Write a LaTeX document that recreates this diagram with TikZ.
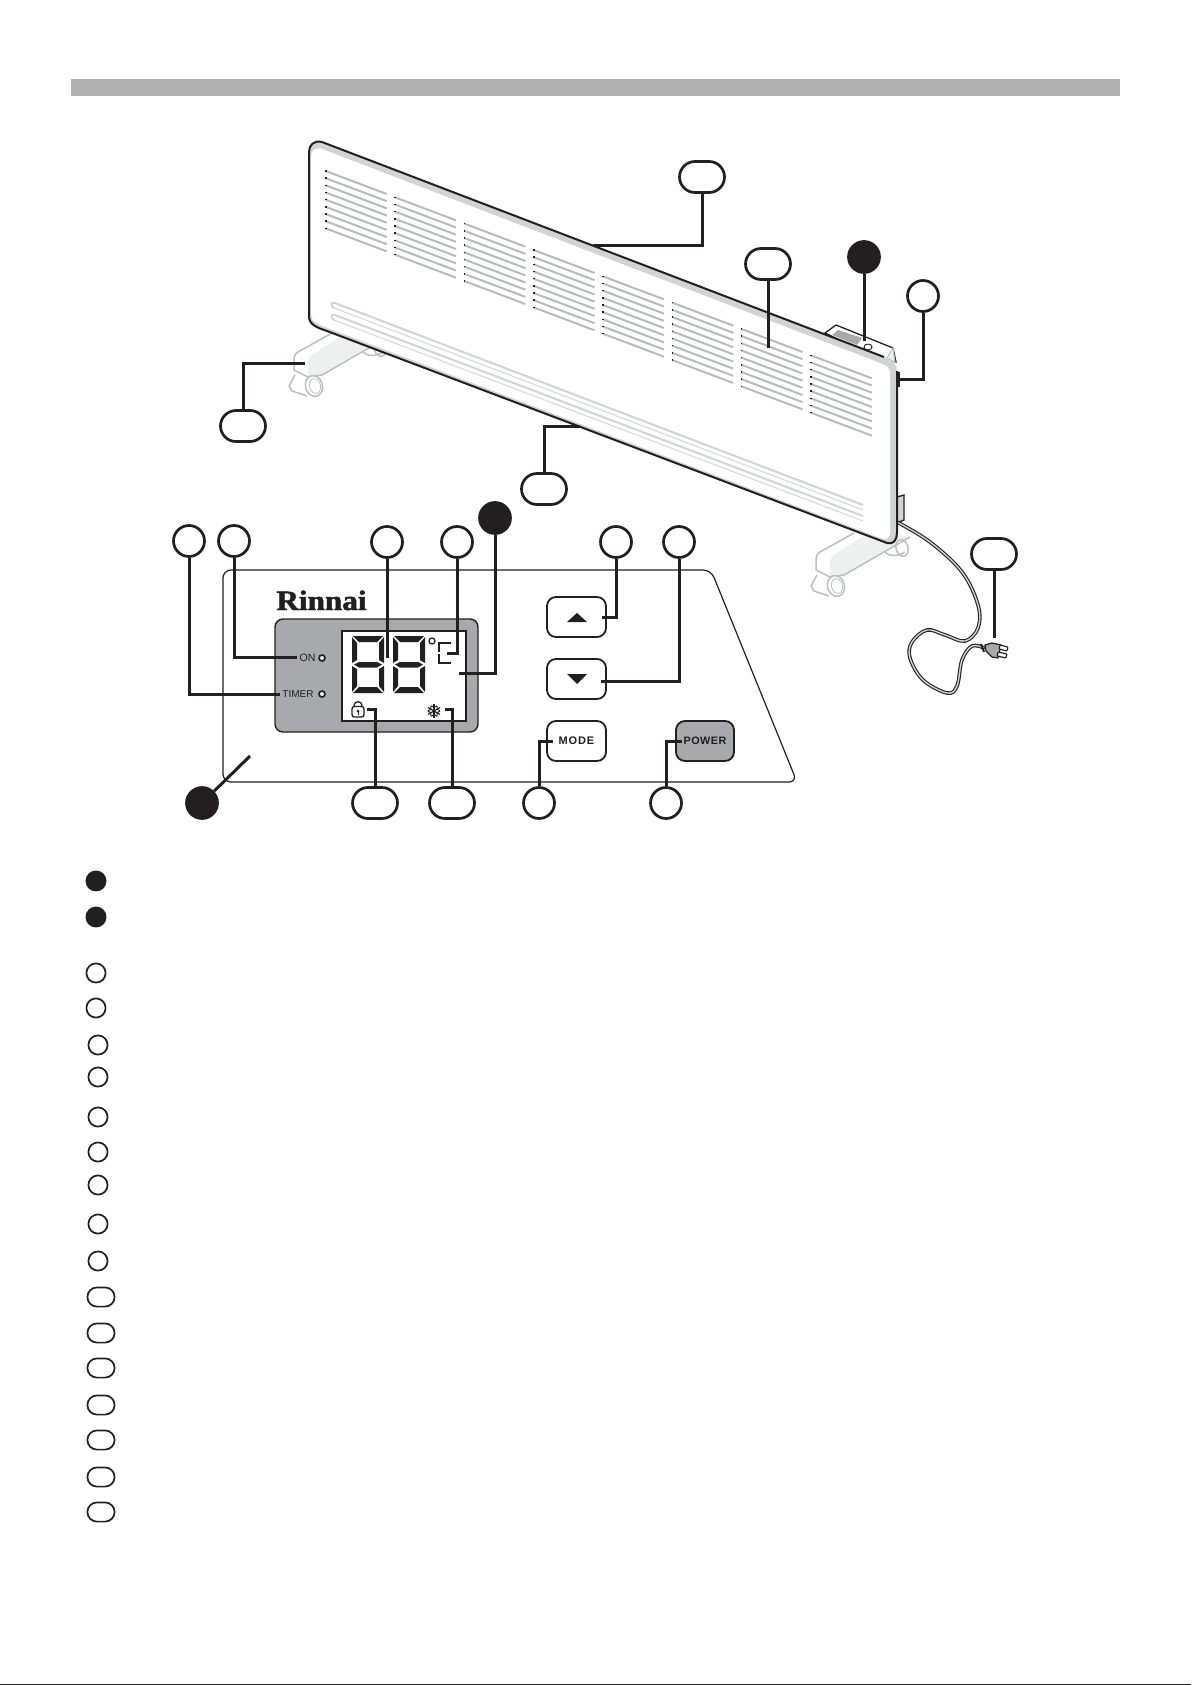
\documentclass[tikz,border=0pt]{standalone}
\usepackage{fontspec}
\setmainfont{Liberation Sans}
\newfontfamily\logofont[BoldFeatures={FakeBold=1.6}]{Liberation Serif}
\usetikzlibrary{shapes.misc}
\definecolor{ink}{HTML}{231F20}
\definecolor{barg}{HTML}{B1B1B1}
\definecolor{panelg}{HTML}{A7A9AC}
\definecolor{stripg}{HTML}{D1D3D4}
\definecolor{slotg}{HTML}{B8BABC}
\definecolor{footg}{HTML}{BCBEC0}
\definecolor{footf}{HTML}{EEEFEF}
\tikzset{
  callout/.style={circle,draw=ink,line width=1.35pt,minimum size=15.5pt,inner sep=0pt,fill=white},
  callfill/.style={circle,draw=ink,fill=ink,line width=1.35pt,minimum size=15.5pt,inner sep=0pt},
  callpill/.style={rounded rectangle,draw=ink,line width=1.35pt,minimum width=22.5pt,minimum height=15.5pt,inner sep=0pt,fill=white},
  legcirc/.style={circle,draw=ink,line width=.85pt,minimum size=9.6pt,inner sep=0pt},
  legfill/.style={circle,draw=ink,fill=ink,line width=.85pt,minimum size=9.6pt,inner sep=0pt},
  legpill/.style={rounded rectangle,draw=ink,line width=.85pt,minimum width=13.6pt,minimum height=9.6pt,inner sep=0pt},
  lead/.style={draw=ink,line width=1.5pt},
  btn/.style={draw=ink,line width=.9pt,rounded corners=4.5pt,fill=white},
  footline/.style={draw=footg,line width=.75pt,line join=round},
  lbl/.style={inner sep=0pt,text=ink}
}
\newcommand\heaterfoot[2]{%
 \begin{scope}[shift={(#1,#2)}]
  \fill[footf] (340,337) -- (312,355) .. controls (309,358) and (308,360) .. (308,364) -- (308,377) -- (322,375) -- (388,337) -- (345,330) -- cycle;
  \draw[footline,fill=white,rotate around={15:(380,348)}] (380,348) ellipse [x radius=6,y radius=8.5];
  \draw[footline] (332,333) -- (298,352) .. controls (295,354) and (294,356) .. (294,359) -- (294,370) -- (308,377) -- (322,375) -- (388,337);
  \draw[footline] (363,352) .. controls (366,356) and (376,357) .. (383,352);
  \draw[footline] (295,375) -- (289,386) -- (292,391) -- (307,396);
  \draw[footline,fill=white,rotate around={15:(314,386)}] (314,386) ellipse [x radius=8.5,y radius=10.5];
  \draw[footline,line width=.4pt,rotate around={15:(315,386)}] (315,386) ellipse [x radius=5.5,y radius=7.5];
 \end{scope}}
\newcommand\lcddigit[1]{%
 \begin{scope}[shift={(#1,636)}]
  \fill[ink] (1,0) -- (31,0) -- (25,6) -- (7,6) -- cycle;
  \fill[ink] (0,1) -- (5,7) -- (5,24) -- (0,27) -- cycle;
  \fill[ink] (32,1) -- (27,7) -- (27,24) -- (32,27) -- cycle;
  \fill[ink] (2,28.5) -- (7,26) -- (25,26) -- (30,28.5) -- (25,31.5) -- (7,31.5) -- cycle;
  \fill[ink] (0,30) -- (5,33) -- (5,50) -- (0,56) -- cycle;
  \fill[ink] (32,30) -- (27,33) -- (27,50) -- (32,56) -- cycle;
  \fill[ink] (1,57) -- (31,57) -- (25,51) -- (7,51) -- cycle;
 \end{scope}}
\begin{document}
\begin{tikzpicture}[x=0.5pt,y=-0.5pt]
\useasboundingbox (0,0) rectangle (1191,1685);
\fill[white] (0,0) rectangle (1191,1685);
\fill[ink] (0,1683.5) rectangle (1191,1685);
\fill[barg] (71,79) rectangle (1120,96);
% feet
\heaterfoot{0}{0}
\heaterfoot{522}{200}
% control box
\draw[ink,line width=.65pt,fill=white] (825,333) -- (836,325) -- (893,348) -- (896,362) -- (880,360) -- cycle;
\fill[panelg] (832,335) -- (838,330) -- (862,338) -- (857,345) -- cycle;
\draw[ink,line width=.45pt] (868,347) ellipse [x radius=4,y radius=3];
\draw[footg,line width=.5pt,fill=footf] (893,348) -- (895,362) -- (887,358) -- cycle;
\fill[ink] (897,372) rectangle (900,387);
% lower box
\draw[ink,line width=.65pt,fill=stripg] (897,497) -- (904,495) -- (904,520) -- (897,523) -- cycle;
% cord
\draw[ink,line width=.55pt,double=stripg,double distance=.7pt,line cap=round]
  plot[smooth,tension=.6] coordinates {(897,522) (930,542) (962,572) (978,605) (978,628) (965,641) (945,635) (927,630) (912,642) (910,658) (923,680) (947,693) (957,686) (962,660) (972,646) (984,648)};
% plug
\fill[panelg,draw=ink,line width=.6pt] (985,645) -- (992,643) -- (1001,645) -- (998,658) -- (992,657) -- (986,651) -- cycle;
\draw[ink,line width=.6pt,fill=white,rounded corners=.5pt] (1000,645) -- (1008,647) -- (1007,651) -- (999,649) -- cycle;
\draw[ink,line width=.6pt,fill=white,rounded corners=.5pt] (998,652) -- (1007,654) -- (1006,658) -- (997,656) -- cycle;
\draw[ink,line width=1pt] (981,644) -- (984,652);
% panel
\fill[stripg] (309,152) .. controls (309,145) and (314,140) .. (322,142) -- (887,358) .. controls (893,360) and (897,364) .. (897,371) -- (897,533) .. controls (897,540) and (893,545) .. (887,543) -- (327,331) .. controls (315,327) and (309,324) .. (309,316) -- cycle;
\fill[white] (311,157) .. controls (311,151) and (314,147) .. (322,149) -- (880,363) .. controls (886,365) and (890,368) .. (890,373) -- (890,532) .. controls (890,537) and (888,540) .. (883,539) -- (328,328) .. controls (317,324) and (311,321) .. (311,314) -- cycle;
\draw[ink,line width=1pt] (322,142) .. controls (314,140) and (309,145) .. (309,152) -- (309,316) .. controls (309,324) and (315,327) .. (327,331) -- (887,543);
\draw[ink,line width=1pt] (322,142) -- (884,357);
\draw[ink,line width=1pt] (897,371) -- (897,533) .. controls (897,540) and (893,545) .. (887,543);
% louvres
\foreach \g in {0,...,7}{
 \foreach \k in {0,...,8}{
  \pgfmathsetmacro\xa{325.7+69.3*\g}
  \pgfmathsetmacro\ya{171+26.33*\g+7.17*\k}
  \draw[slotg,line width=1pt] (\xa,\ya) -- (\xa+61,\ya+23);
  \fill[ink] (\xa-.6,\ya-.7) rectangle (\xa+.9,\ya+.7);
 }}
% grooves
\draw[stripg,line width=1pt] (863,505) -- (335,303) .. controls (331,301.5) and (330,306) .. (334,308);
\draw[stripg,line width=.45pt] (334,308) -- (863,510);
\draw[stripg,line width=1pt] (863,516) -- (335,315) .. controls (331,313.5) and (330,318) .. (334,320);
\draw[stripg,line width=.45pt] (334,320) -- (863,521);
% control panel
\draw[ink,line width=.6pt,rounded corners=4pt] (223,570) -- (711,570) -- (797,782) -- (223,782) -- cycle;
\draw[ink,line width=.7pt,fill=panelg,rounded corners=4pt] (275,619) rectangle (478,732);
\draw[ink,line width=.95pt,fill=white] (342,631) rectangle (466,721);
\node[lbl,anchor=base west] (logo) at (276,610) {\scalebox{1}[.9]{\logofont\bfseries\fontsize{15.6}{15.6}\selectfont Rinnai}};
\node[lbl,anchor=east,font=\fontsize{5.3}{6}\selectfont] (onlabel) at (316,658) {ON};
\node[lbl,anchor=east,font=\fontsize{5}{6}\selectfont] (timerlabel) at (314,694) {TIMER};
\draw[ink,line width=.85pt,fill=white] (322,658) circle [radius=3];
\draw[ink,line width=.85pt,fill=white] (322,694) circle [radius=3];
\lcddigit{352}
\lcddigit{393}
\draw[ink,line width=.65pt] (432,641) circle [radius=3];
\draw[ink,line width=.75pt] (451,643) -- (439,643) -- (439,652) (439,654) -- (439,663) -- (451,663);
% lock
\draw[ink,line width=.65pt,rounded corners=1.2pt,fill=white] (352,706.5) rectangle (364,717);
\draw[ink,line width=.65pt] (354,706.5) .. controls (354,700) and (362,700) .. (362,706.5);
\fill[ink] (358,711) circle [radius=1.5];
\draw[ink,line width=.5pt] (358,711) -- (358,715);
% snowflake
\foreach \a in {30,90,150,210,270,330}{
 \draw[ink,line width=.55pt] (434,711) -- +(\a:7);
 \draw[ink,line width=.5pt] (434,711)+(\a+28:6) -- +(\a:3.5) -- +(\a-28:6);
}
% buttons
\draw[btn] (547,597) rectangle (606,637);
\fill[ink] (577,613) -- (587,622) -- (567,622) -- cycle;
\draw[btn] (547,659) rectangle (606,699);
\fill[ink] (567,674) -- (587,674) -- (577,684) -- cycle;
\node[btn,minimum width=29.5pt,minimum height=20pt,inner sep=0pt,font=\bfseries\fontsize{5.5}{6}\selectfont,text=ink] (modebtn) at (576.5,741) {\addfontfeatures{LetterSpace=8}MODE};
\node[btn,fill=panelg,minimum width=29pt,minimum height=20pt,inner sep=0pt,font=\bfseries\fontsize{5.4}{6}\selectfont,text=ink] (powerbtn) at (705,741) {\addfontfeatures{LetterSpace=5}POWER};
% callouts
\node[callpill] (c1) at (702,177) {};
\node[callpill] (c2) at (768,264) {};
\node[callfill] (c3) at (864,257) {};
\node[callout] (c4) at (923,296) {};
\node[callpill] (c5) at (243,426) {};
\node[callpill] (c6) at (544,489) {};
\node[callpill] (c7) at (994,554) {};
\node[callout] (pa) at (189,541) {};
\node[callout] (pb) at (234,541) {};
\node[callout] (pc) at (387,542) {};
\node[callout] (pd) at (457,542) {};
\node[callfill] (pe) at (495,518) {};
\node[callout] (pf) at (616,542) {};
\node[callout] (pg) at (679,542) {};
\node[callfill] (ph) at (202,803) {};
\node[callpill] (pi) at (375,803) {};
\node[callpill] (pj) at (452,803) {};
\node[callout] (pk) at (539,803) {};
\node[callout] (pl) at (666,803) {};
\coordinate (e1) at (593,246);
\coordinate (e2) at (768,348);
\coordinate (e3) at (864,341);
\coordinate (e4) at (900,379);
\coordinate (e5) at (305,363);
\coordinate (e6) at (580,426);
\coordinate (e7) at (994,638);
\coordinate (ea) at (280,694);
\coordinate (eb) at (297,657);
\coordinate (ec) at (387,658);
\coordinate (ed) at (447,653);
\coordinate (ee) at (459,673);
\coordinate (ef) at (602,617);
\coordinate (eg) at (601,681);
\coordinate (eh) at (250,756);
\coordinate (ei) at (367,709);
\coordinate (ej) at (445,709);
\coordinate (ek) at (553,741);
\coordinate (el) at (682,741);
\draw[lead] (c1) |- (e1);
\draw[lead] (c2) -- (e2);
\draw[lead] (c3) -- (e3);
\draw[lead] (c4) |- (e4);
\draw[lead] (c5) |- (e5);
\draw[lead] (c6) |- (e6);
\draw[lead] (c7) -- (e7);
\draw[lead] (pa) |- (ea);
\draw[lead] (pb) |- (eb);
\draw[lead] (pc) -- (ec);
\draw[lead] (pd) |- (ed);
\draw[lead] (pe) |- (ee);
\draw[lead] (pf) |- (ef);
\draw[lead] (pg) |- (eg);
\draw[lead] (ph) -- (eh);
\draw[lead] (pi) |- (ei);
\draw[lead] (pj) |- (ej);
\draw[lead] (pk) |- (ek);
\draw[lead] (pl) |- (el);
% legend
\node[legfill] (l1) at (96,881) {};
\node[legfill] (l2) at (96,917) {};
\node[legcirc] (l3) at (96,973) {};
\node[legcirc] (l4) at (96,1008) {};
\node[legcirc] (l5) at (98,1045) {};
\node[legcirc] (l6) at (98,1077) {};
\node[legcirc] (l7) at (98,1117) {};
\node[legcirc] (l8) at (98,1152) {};
\node[legcirc] (l9) at (98,1185) {};
\node[legcirc] (l10) at (98,1224) {};
\node[legcirc] (l11) at (98,1261) {};
\node[legpill] (l12) at (101,1297) {};
\node[legpill] (l13) at (101,1333) {};
\node[legpill] (l14) at (101,1368) {};
\node[legpill] (l15) at (101,1405) {};
\node[legpill] (l16) at (101,1440) {};
\node[legpill] (l17) at (101,1477) {};
\node[legpill] (l18) at (101,1512) {};
\end{tikzpicture}
\end{document}
